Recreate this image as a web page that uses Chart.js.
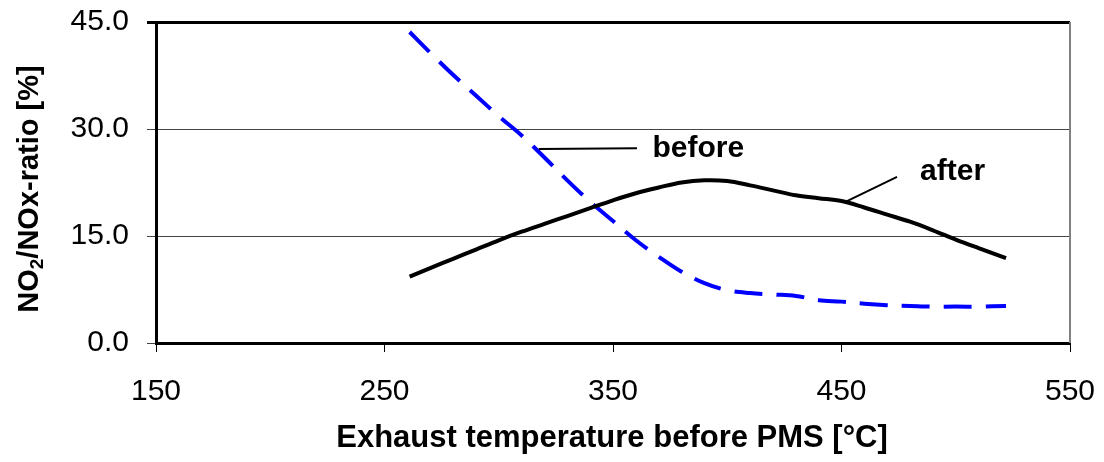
<!DOCTYPE html>
<html>
<head>
<meta charset="utf-8">
<script src="https://cdn.jsdelivr.net/npm/chart.js@4.4.1/dist/chart.umd.min.js"></script>
<style>
  html, body { margin: 0; padding: 0; background: #fff; }
  #wrap { width: 1104px; height: 462px; }
</style>
</head>
<body>
<div id="wrap"><canvas id="grafico" width="1104" height="462"></canvas></div>
<script>
// temperature before PMS [°C]
var temperature = [261, 270, 280, 290, 300, 310, 320, 330, 340, 350, 360, 370, 380, 390, 400, 410, 420, 430, 440, 450, 460, 470, 480, 490, 500, 510, 522];
// NO2/NOx ratio [%] before the PMS
var rapportoBefore = [43.6, 40.7, 37.6, 34.7, 31.8, 29.1, 26.0, 22.8, 19.8, 17.1, 14.4, 12.1, 10.0, 8.4, 7.4, 7.0, 6.8, 6.6, 6.0, 5.8, 5.5, 5.3, 5.2, 5.1, 5.1, 5.1, 5.2];
// NO2/NOx ratio [%] after the PMS
var rapportoAfter = [9.3, 10.5, 11.8, 13.1, 14.4, 15.6, 16.7, 17.8, 18.9, 20.0, 21.0, 21.8, 22.5, 22.8, 22.7, 22.1, 21.4, 20.7, 20.3, 19.9, 19.0, 18.0, 17.0, 15.8, 14.5, 13.3, 11.9];
var tickY = [0, 15, 30, 45];
var tickX = [150, 250, 350, 450, 550];
var etichette = ['before', 'after'];

var font = "Arial, 'Liberation Sans', sans-serif";

function punti(xs, ys) {
    var out = [];
    for (var i = 0; i < xs.length; i++) {
        out.push({x: xs[i], y: ys[i]});
    }
    return out;
}

// scritte, linee di richiamo, titoli e bordo destro
var decorazioni = {
    id: 'decorazioni',
    afterDraw: function(chart) {
        var ctx = chart.ctx;
        var sx = chart.scales.x, sy = chart.scales.y;
        var area = chart.chartArea;
        ctx.save();

        // bordo destro grigio
        ctx.strokeStyle = '#808080';
        ctx.lineWidth = 2;
        ctx.beginPath();
        ctx.moveTo(area.right, area.top);
        ctx.lineTo(area.right, area.bottom);
        ctx.stroke();

        // linee di richiamo
        ctx.strokeStyle = '#000';
        ctx.lineWidth = 2;
        ctx.beginPath();
        ctx.moveTo(sx.getPixelForValue(317.5), sy.getPixelForValue(27.2));
        ctx.lineTo(sx.getPixelForValue(360.5), sy.getPixelForValue(27.3));
        ctx.moveTo(sx.getPixelForValue(452.4), sy.getPixelForValue(19.9));
        ctx.lineTo(sx.getPixelForValue(474.3), sy.getPixelForValue(23.3));
        ctx.stroke();

        ctx.fillStyle = '#000';
        ctx.font = 'bold 30px ' + font;
        ctx.textBaseline = 'middle';
        ctx.textAlign = 'left';
        ctx.fillText(etichette[0], sx.getPixelForValue(367.3), sy.getPixelForValue(27.2));
        ctx.fillText(etichette[1], sx.getPixelForValue(484.4), sy.getPixelForValue(24.0));

        // titolo asse x
        ctx.font = 'bold 31px ' + font;
        ctx.textAlign = 'center';
        ctx.fillText('Exhaust temperature before PMS [°C]', 612, 438);

        // titolo asse y con pedice
        ctx.translate(30, 189);
        ctx.rotate(-Math.PI / 2);
        var grande = 'bold 29px ' + font;
        var piccolo = 'bold 19px ' + font;
        ctx.font = grande;
        var w1 = ctx.measureText('NO').width;
        var w3 = ctx.measureText('/NOx-ratio [%]').width;
        ctx.font = piccolo;
        var w2 = ctx.measureText('2').width;
        var x0 = -(w1 + w2 + w3) / 2;
        ctx.textAlign = 'left';
        ctx.font = grande;
        ctx.fillText('NO', x0, 0);
        ctx.font = piccolo;
        ctx.fillText('2', x0 + w1, 8);
        ctx.font = grande;
        ctx.fillText('/NOx-ratio [%]', x0 + w1 + w2, 0);
        ctx.restore();
    }
};

var ctx = document.getElementById('grafico');
var chart = new Chart(ctx, {
    type: 'line',
    data: {
        datasets: [{
            label: 'after',
            data: punti(temperature, rapportoAfter),
            borderColor: '#000000',
            borderWidth: 4,
            pointRadius: 0,
            tension: 0.35,
            fill: false
        }, {
            label: 'before',
            data: punti(temperature, rapportoBefore),
            borderColor: '#0000FF',
            borderWidth: 4,
            borderDash: [28, 14],
            pointRadius: 0,
            tension: 0.35,
            fill: false
        }]
    },
    options: {
        responsive: false,
        animation: false,
        layout: { padding: { left: 0, top: 22, right: 34, bottom: 0 } },
        plugins: { legend: { display: false }, tooltip: { enabled: false } },
        scales: {
            x: {
                type: 'linear',
                min: 150,
                max: 550,
                afterBuildTicks: function(scale) {
                    scale.ticks = tickX.map(function(v) { return {value: v}; });
                },
                afterFit: function(scale) {
                    scale.height = 119;
                    scale.paddingLeft = 0;
                    scale.paddingRight = 0;
                },
                grid: { drawOnChartArea: false, drawTicks: true, tickLength: 9, color: '#000', tickWidth: 1 },
                border: { color: '#000', width: 3 },
                ticks: { color: '#000', font: { family: font, size: 30 }, padding: 22, maxRotation: 0 }
            },
            y: {
                min: 0,
                max: 45,
                afterBuildTicks: function(scale) {
                    scale.ticks = tickY.map(function(v) { return {value: v}; });
                },
                afterFit: function(scale) {
                    scale.width = 156;
                    scale.paddingTop = 0;
                    scale.paddingBottom = 0;
                },
                grid: {
                    tickLength: 9,
                    color: function(c) { return c.tick && c.tick.value === 45 ? '#000' : '#444'; },
                    lineWidth: function(c) { return c.tick && c.tick.value === 45 ? 3 : 1; }
                },
                border: { color: '#000', width: 3 },
                ticks: {
                    color: '#000',
                    font: { family: font, size: 30 },
                    padding: 18,
                    callback: function(v) { return Number(v).toFixed(1); }
                }
            }
        }
    },
    plugins: [decorazioni]
});
</script>
</body>
</html>
